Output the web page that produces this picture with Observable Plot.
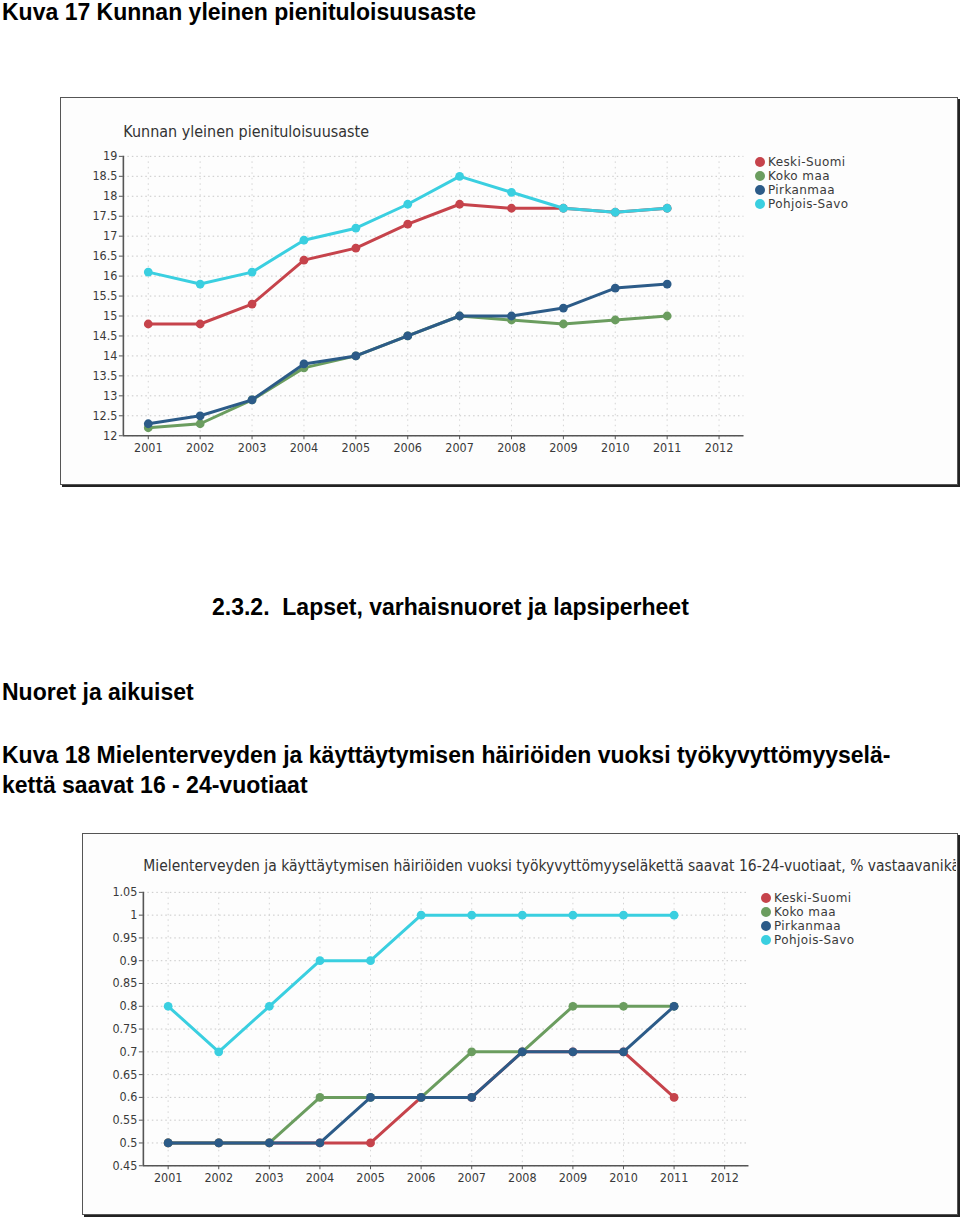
<!DOCTYPE html>
<html><head><meta charset="utf-8">
<script src="https://cdn.jsdelivr.net/npm/d3@7"></script>
<script src="https://cdn.jsdelivr.net/npm/@observablehq/plot@0.6"></script>
<style>
body{margin:0;background:#fff;}
#page{position:relative;width:960px;height:1217px;overflow:hidden;font-family:"Liberation Sans",Arial,sans-serif;}
.h{position:absolute;left:2px;font-weight:bold;font-size:23px;line-height:30px;color:#000;white-space:nowrap;}
.box{position:absolute;background:#fdfdfd;border:1px solid #555;box-shadow:2px 2px 0 #222;box-sizing:border-box;overflow:hidden;}
.box svg{position:absolute;left:-1px;top:-1px;overflow:hidden;}
.legend{position:absolute;font-family:"DejaVu Sans","Noto Sans",sans-serif;font-size:12px;letter-spacing:0.4px;color:#3a3a3a;}
.legend div{height:14px;line-height:14px;white-space:nowrap;}
.legend span.sw{display:inline-block;width:10px;height:10px;border-radius:50%;vertical-align:-1px;margin-right:3px;}
</style>
</head><body>
<div id="page">
  <div class="h" style="top:-3px;">Kuva 17 Kunnan yleinen pienituloisuusaste</div>
  <div id="box1" class="box" style="left:60px;top:97px;width:898px;height:388px;"></div>
  <div class="h" style="top:592px;left:212px;">2.3.2.&nbsp; Lapset, varhaisnuoret ja lapsiperheet</div>
  <div class="h" style="top:677px;">Nuoret ja aikuiset</div>
  <div class="h" style="top:740px;">Kuva 18 Mielenterveyden ja käyttäytymisen häiriöiden vuoksi työkyvyttömyyselä-<br>kettä saavat 16 - 24-vuotiaat</div>
  <div id="box2" class="box" style="left:82px;top:833px;width:876px;height:382px;"></div>
</div>
<script>
// ---------- data ----------
const seriesNames = ["Keski-Suomi", "Koko maa", "Pirkanmaa", "Pohjois-Savo"];
const seriesColors = ["#c6434b", "#6b9d5f", "#2c5b88", "#3acfe0"];
const years = [2001, 2002, 2003, 2004, 2005, 2006, 2007, 2008, 2009, 2010, 2011];
const axisYears = [2001, 2002, 2003, 2004, 2005, 2006, 2007, 2008, 2009, 2010, 2011, 2012];

// Kuva 17: Kunnan yleinen pienituloisuusaste
const title1 = "Kunnan yleinen pienituloisuusaste";
const keskiSuomi1  = [14.8, 14.8, 15.3, 16.4, 16.7, 17.3, 17.8, 17.7, 17.7, 17.6, 17.7];
const kokoMaa1     = [12.2, 12.3, 12.9, 13.7, 14.0, 14.5, 15.0, 14.9, 14.8, 14.9, 15.0];
const pirkanmaa1   = [12.3, 12.5, 12.9, 13.8, 14.0, 14.5, 15.0, 15.0, 15.2, 15.7, 15.8];
const pohjoisSavo1 = [16.1, 15.8, 16.1, 16.9, 17.2, 17.8, 18.5, 18.1, 17.7, 17.6, 17.7];
const yTicks1 = [12, 12.5, 13, 13.5, 14, 14.5, 15, 15.5, 16, 16.5, 17, 17.5, 18, 18.5, 19];

// Kuva 18: työkyvyttömyyseläkettä saavat 16-24-vuotiaat, %
const title2 = "Mielenterveyden ja käyttäytymisen häiriöiden vuoksi työkyvyttömyyseläkettä saavat 16-24-vuotiaat, % vastaavanikäisestä väestöstä";
const keskiSuomi2  = [0.5, 0.5, 0.5, 0.5, 0.5, 0.6, 0.6, 0.7, 0.7, 0.7, 0.6];
const kokoMaa2     = [0.5, 0.5, 0.5, 0.6, 0.6, 0.6, 0.7, 0.7, 0.8, 0.8, 0.8];
const pirkanmaa2   = [0.5, 0.5, 0.5, 0.5, 0.6, 0.6, 0.6, 0.7, 0.7, 0.7, 0.8];
const pohjoisSavo2 = [0.8, 0.7, 0.8, 0.9, 0.9, 1.0, 1.0, 1.0, 1.0, 1.0, 1.0];
const yTicks2 = [0.45, 0.5, 0.55, 0.6, 0.65, 0.7, 0.75, 0.8, 0.85, 0.9, 0.95, 1, 1.05];

// ---------- chart builder ----------
const tickFont = "'DejaVu Sans Condensed','DejaVu Sans',sans-serif";
function buildChart(boxId, cfg) {
  const {title, values, yTicks, width, height, margins, xDomain, legendPos, titleDy, titleSize} = cfg;
  const [mt, mr, mb, ml] = margins;
  const marks = [
    Plot.gridY(yTicks, {stroke: "#c8c8c8", strokeOpacity: 1, strokeDasharray: "1.5,3"}),
    Plot.gridX(axisYears, {stroke: "#d4d4d4", strokeOpacity: 1, strokeDasharray: "1.5,4"}),
    Plot.ruleX([xDomain[0]], {y1: yTicks[0], y2: yTicks[yTicks.length - 1], stroke: "#555", strokeWidth: 1.6}),
    Plot.ruleY([yTicks[0]], {x1: xDomain[0], x2: xDomain[1], stroke: "#555", strokeWidth: 1.6}),
    Plot.axisY(yTicks, {anchor: "left", tickSize: 4, tickPadding: 2, label: null,
      tickFormat: d => String(+d.toFixed(2)), fontSize: 12.5, fontFamily: tickFont, fill: "#3a3a3a", stroke: "#555"}),
    Plot.axisX(axisYears, {anchor: "bottom", tickSize: 4, tickPadding: 3, label: null,
      tickFormat: d => String(d), fontSize: 12.5, fontFamily: tickFont, fill: "#3a3a3a", stroke: "#555"}),
    Plot.text([title], {frameAnchor: "top-left", textAnchor: "start", dy: titleDy, dx: 0,
      fontSize: titleSize, fontFamily: tickFont, fill: "#333"})
  ];
  seriesNames.forEach((name, i) => {
    const rows = years.map((year, j) => ({year, value: values[i][j], series: name}));
    marks.push(Plot.line(rows, {x: "year", y: "value", stroke: seriesColors[i], strokeWidth: 3}));
    marks.push(Plot.dot(rows, {x: "year", y: "value", fill: seriesColors[i], r: 4.4}));
  });
  const svg = Plot.plot({
    width, height,
    marginTop: mt, marginRight: mr, marginBottom: mb, marginLeft: ml,
    style: {background: "transparent", color: "#333", fontFamily: tickFont},
    x: {type: "linear", domain: xDomain, axis: null},
    y: {type: "linear", domain: [yTicks[0], yTicks[yTicks.length - 1]], axis: null},
    marks
  });
  const box = document.getElementById(boxId);
  box.appendChild(svg);
  const leg = document.createElement("div");
  leg.className = "legend";
  leg.style.left = legendPos[0] + "px";
  leg.style.top = legendPos[1] + "px";
  seriesNames.forEach((name, i) => {
    const row = document.createElement("div");
    const sw = document.createElement("span");
    sw.className = "sw";
    sw.style.background = seriesColors[i];
    row.appendChild(sw);
    row.appendChild(document.createTextNode(name));
    leg.appendChild(row);
  });
  box.appendChild(leg);
}

buildChart("box1", {
  title: title1,
  values: [keskiSuomi1, kokoMaa1, pirkanmaa1, pohjoisSavo1],
  yTicks: yTicks1,
  width: 898, height: 388,
  margins: [59, 213, 49, 63],
  xDomain: [2000.52, 2012.48],
  legendPos: [694, 57],
  titleDy: -31, titleSize: 16
});
buildChart("box2", {
  title: title2,
  values: [keskiSuomi2, kokoMaa2, pirkanmaa2, pohjoisSavo2],
  yTicks: yTicks2,
  width: 876, height: 382,
  margins: [59, 208, 49, 61],
  xDomain: [2000.51, 2012.48],
  legendPos: [678, 57],
  titleDy: -32, titleSize: 15.5
});
</script>
</body></html>
